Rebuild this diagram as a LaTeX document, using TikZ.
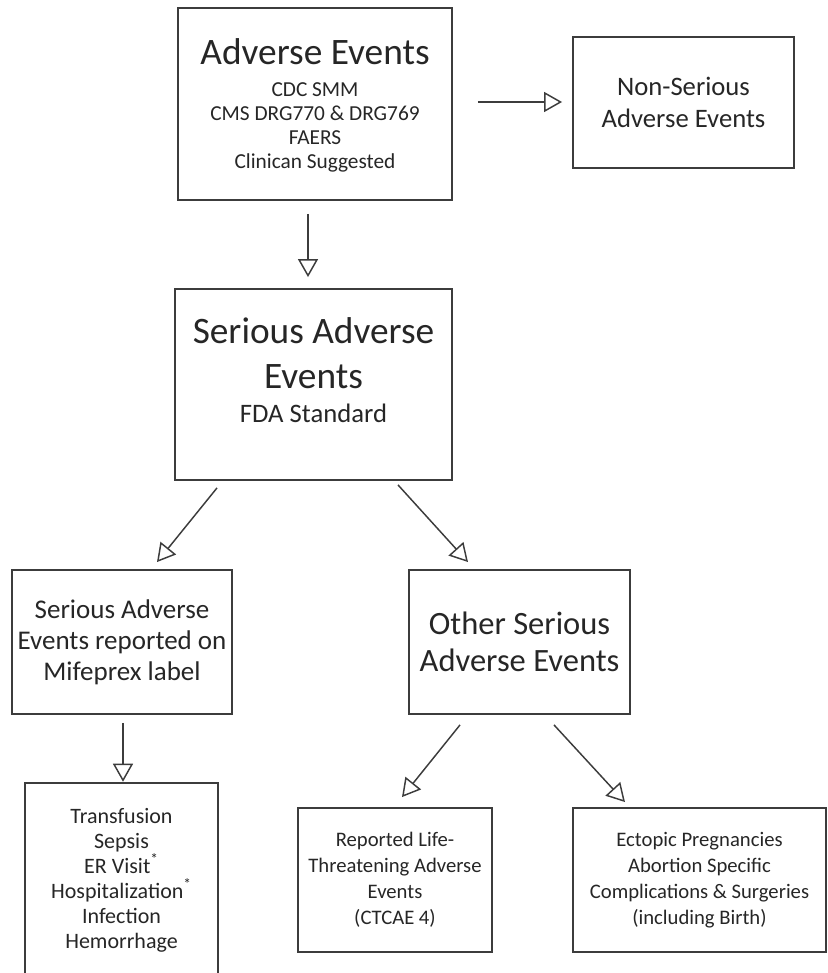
\documentclass[tikz,border=0pt]{standalone}
\usepackage{fontspec}
\setmainfont{Carlito}
\usetikzlibrary{arrows.meta,calc}
\definecolor{linec}{HTML}{3C3C3C}
\definecolor{textc}{HTML}{262626}
\tikzset{
  box/.style={draw=linec, line width=1.4pt, rectangle, inner sep=0pt, text=textc, align=center},
  txt/.style={inner sep=0pt, text=textc, align=center},
  arr/.style={draw=linec, line width=1.1pt, -{Triangle[open, length=13.5pt, width=15pt, line width=1.1pt]}}
}
\begin{document}
\begin{tikzpicture}[x=0.75pt, y=-0.75pt]
\useasboundingbox (0,0) rectangle (827,973);
% boxes
\node[box, minimum width=205.5pt, minimum height=144pt] (ae) at (315,104) {};
\node[txt, anchor=base, font=\fontsize{28}{34}\selectfont] (aet) at (315,65) {Adverse Events};
\node[txt, font=\fontsize{16}{18}\selectfont] (aes) at (315,127) {CDC SMM\\CMS DRG770 \& DRG769\\FAERS\\Clinican Suggested};

\node[box, minimum width=165.75pt, minimum height=98.25pt, font=\fontsize{20}{24}\selectfont] (ns) at (683.5,102.5) {Non-Serious\\Adverse Events};

\node[box, minimum width=207.75pt, minimum height=143.25pt] (sae) at (313.5,384.5) {};
\node[txt, font=\fontsize{28}{33.75}\selectfont] (saet) at (313.5,353) {Serious Adverse\\Events};
\node[txt, anchor=base, font=\fontsize{20}{24}\selectfont] (saes) at (313.5,422) {FDA Standard};

\node[box, minimum width=165pt, minimum height=108pt, font=\fontsize{20.25}{23.25}\selectfont] (lab) at (122,642) {Serious Adverse\\Events reported on\\Mifeprex label};

\node[box, minimum width=165.75pt, minimum height=108pt, font=\fontsize{24.4}{27.75}\selectfont] (oth) at (519.5,642) {Other Serious\\Adverse Events};

\node[txt, minimum width=144.75pt, minimum height=145.5pt, font=\fontsize{16.5}{18.75}\selectfont] (tr) at (121.5,880) {Transfusion\\Sepsis\\ER Visit\textsuperscript{*}\\Hospitalization\textsuperscript{*}\\Infection\\Hemorrhage};
\draw[draw=linec, line width=1.4pt] (tr.south west) -- (tr.north west) -- (tr.north east) -- (tr.south east);

\node[box, minimum width=145.5pt, minimum height=108pt, font=\fontsize{15.5}{19.5}\selectfont] (rep) at (395,880) {Reported Life-\\Threatening Adverse\\Events\\(CTCAE 4)};

\node[box, minimum width=189.75pt, minimum height=108pt, font=\fontsize{15.5}{19.5}\selectfont] (ect) at (699.5,880) {Ectopic Pregnancies\\Abortion Specific\\Complications \& Surgeries\\(including Birth)};

% connectors
\draw[arr] ($(ae.east)+(25,-2)$) -- ($(ns.west)+(-10,-0.5)$);
\draw[arr] ($(ae.south)+(-7,13)$) -- ($(sae.north)+(-5.5,-11)$);
\draw[arr] ($(sae.south)+(-96.5,7)$) -- ($(lab.north)+(35,-7)$);
\draw[arr] ($(sae.south)+(84.5,4)$) -- ($(oth.north)+(-51.5,-7)$);
\draw[arr] ($(lab.south)+(1,8)$) -- ($(tr.north)+(1.5,-1)$);
\draw[arr] ($(oth.south)+(-59.5,10)$) -- ($(rep.north)+(7,-10)$);
\draw[arr] ($(oth.south)+(34.5,10)$) -- ($(ect.north)+(-74.5,-5)$);
\end{tikzpicture}
\end{document}
